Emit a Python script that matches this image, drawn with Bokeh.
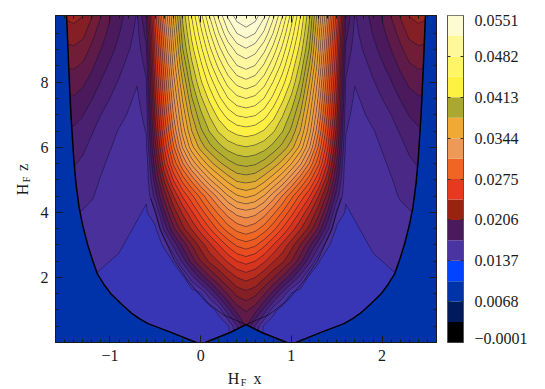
import numpy as np
from bokeh.plotting import figure
from bokeh.layouts import row, column
from bokeh.embed import file_html
from bokeh.resources import INLINE
from bokeh.core.properties import value
from bokeh.models import FixedTicker, LinearAxis, Range1d

# symmetry axis of the pattern and axis extents
X_MID = 0.5
X_LO, X_HI = -1.6, 2.6
Z_LO, Z_HI = 0.0, 10.05

Z_ROWS = [0, .5, 1, 1.5, 2, 2.5, 3, 3.5, 4, 4.5, 5, 5.5, 6, 6.5, 7, 7.5, 8, 8.5, 9, 9.5, 10.05]
D_COLS = [0, .1, .2, .3, .4, .5, .6, .7, .8, .9, 1.0, 1.1, 1.2, 1.3, 1.4, 1.5, 1.6, 1.7, 1.8, 1.9, 2.0, 2.1]
FLOOR = .0145

# central lobe, read row by row against distance from the axis: d = 0 ... 1.2
CENTRAL = [
    [.0185, .0165, .0148, .0145, .0145, .0145, .0145, .0145, .0145, .0145, .0145, .0145, .0145],
    [.0195, .0172, .0150, .0145, .0145, .0145, .0145, .0145, .0145, .0145, .0145, .0145, .0145],
    [.0206, .0199, .0180, .0156, .0146, .0145, .0145, .0145, .0145, .0145, .0145, .0145, .0145],
    [.0222, .0218, .0206, .0190, .0170, .0151, .0145, .0145, .0145, .0145, .0145, .0145, .0145],
    [.0240, .0236, .0227, .0216, .0203, .0187, .0168, .0148, .0145, .0145, .0145, .0145, .0145],
    [.0261, .0257, .0248, .0237, .0228, .0215, .0198, .0176, .0153, .0145, .0145, .0145, .0145],
    [.0284, .0280, .0270, .0257, .0244, .0230, .0215, .0197, .0176, .0154, .0145, .0145, .0145],
    [.0307, .0303, .0294, .0282, .0267, .0252, .0237, .0222, .0202, .0176, .0150, .0145, .0145],
    [.0327, .0324, .0315, .0302, .0288, .0272, .0255, .0238, .0219, .0193, .0160, .0145, .0145],
    [.0354, .0350, .0340, .0325, .0309, .0292, .0275, .0258, .0236, .0210, .0178, .0145, .0145],
    [.0377, .0375, .0366, .0354, .0340, .0322, .0302, .0282, .0258, .0228, .0190, .0150, .0145],
    [.0397, .0395, .0389, .0380, .0368, .0352, .0333, .0308, .0280, .0245, .0202, .0155, .0145],
    [.0414, .0412, .0408, .0400, .0390, .0377, .0358, .0331, .0297, .0258, .0212, .0160, .0145],
    [.0431, .0429, .0424, .0416, .0405, .0391, .0372, .0345, .0310, .0268, .0221, .0163, .0145],
    [.0449, .0447, .0440, .0429, .0416, .0401, .0382, .0354, .0320, .0276, .0228, .0166, .0145],
    [.0467, .0464, .0456, .0443, .0428, .0412, .0392, .0363, .0328, .0283, .0234, .0169, .0145],
    [.0485, .0481, .0471, .0456, .0440, .0423, .0402, .0372, .0336, .0289, .0240, .0172, .0145],
    [.0502, .0498, .0486, .0470, .0452, .0432, .0411, .0382, .0344, .0295, .0245, .0176, .0145],
    [.0518, .0513, .0501, .0484, .0464, .0442, .0420, .0392, .0350, .0301, .0250, .0181, .0145],
    [.0535, .0530, .0517, .0498, .0476, .0452, .0428, .0399, .0356, .0307, .0255, .0187, .0145],
    [.0551, .0546, .0532, .0512, .0489, .0463, .0436, .0406, .0364, .0315, .0262, .0195, .0145],
]

# outer lobes, read row by row against distance from the axis: d = 1.0 ... 2.1
LOBE = [
    [.0145, .0145, .0145, .0145, .0145, .0145, .0145, .0145, .0145, .0145, .0145, .0145],
    [.0145, .0145, .0145, .0145, .0145, .0145, .0145, .0145, .0145, .0145, .0145, .0145],
    [.0145, .0145, .0145, .0145, .0145, .0145, .0145, .0146, .0146, .0146, .0146, .0146],
    [.0145, .0145, .0145, .0145, .0146, .0147, .0148, .0148, .0149, .0149, .0149, .0149],
    [.0145, .0145, .0146, .0147, .0148, .0150, .0151, .0152, .0153, .0153, .0153, .0153],
    [.0146, .0146, .0147, .0149, .0151, .0152, .0153, .0154, .0155, .0155, .0155, .0155],
    [.0146, .0147, .0149, .0151, .0153, .0154, .0155, .0156, .0157, .0157, .0157, .0157],
    [.0147, .0149, .0151, .0153, .0155, .0156, .0157, .0158, .0159, .0160, .0160, .0160],
    [.0149, .0151, .0153, .0155, .0157, .0158, .0159, .0161, .0162, .0163, .0163, .0163],
    [.0150, .0153, .0155, .0156, .0158, .0159, .0161, .0163, .0165, .0166, .0166, .0166],
    [.0151, .0154, .0155, .0157, .0158, .0160, .0162, .0165, .0168, .0170, .0170, .0169],
    [.0152, .0155, .0156, .0157, .0159, .0161, .0164, .0167, .0171, .0174, .0174, .0173],
    [.0153, .0155, .0156, .0158, .0160, .0163, .0166, .0170, .0175, .0178, .0178, .0177],
    [.0154, .0156, .0158, .0160, .0162, .0165, .0169, .0174, .0179, .0182, .0182, .0181],
    [.0155, .0157, .0159, .0162, .0165, .0169, .0173, .0178, .0184, .0187, .0187, .0186],
    [.0156, .0158, .0161, .0164, .0168, .0173, .0178, .0184, .0190, .0193, .0193, .0191],
    [.0157, .0159, .0163, .0167, .0172, .0177, .0183, .0190, .0196, .0199, .0199, .0197],
    [.0158, .0161, .0165, .0170, .0176, .0182, .0188, .0196, .0203, .0206, .0205, .0203],
    [.0159, .0163, .0168, .0174, .0180, .0187, .0194, .0202, .0210, .0213, .0212, .0210],
    [.0160, .0165, .0170, .0177, .0184, .0191, .0199, .0208, .0218, .0221, .0220, .0217],
    [.0161, .0166, .0172, .0180, .0187, .0195, .0205, .0216, .0226, .0229, .0227, .0224],
]

# black separatrices on the left side; the right side is their mirror image
OUTER_X = [-.05, -.326, -.58, -.68, -.77, -.88, -.99, -1.07, -1.14, -1.20, -1.25, -1.30, -1.34, -1.375, -1.40, -1.43, -1.455, -1.478]
OUTER_Z = [0, .31, .58, .74, .92, 1.2, 1.5, 1.8, 2.12, 2.6, 3.05, 3.6, 4.15, 4.9, 5.7, 7.0, 8.5, 10.05]
INNER_X = [.95, .674, .5, .25, .04, -.14, -.29, -.44, -.55]
INNER_Z = [0, .31, .55, .85, 1.3, 1.9, 2.52, 3.45, 4.43]
N_BELOW_CROSSING = 3

# colour bar
BAND_COLORS = ["#000000", "#001a5c", "#0033aa", "#0044ff", "#4a33a2", "#4b1a5c", "#992211", "#e63a1e",
               "#ee6622", "#ee9955", "#f0aa33", "#aaa82f", "#fff044", "#fff566", "#fff899", "#fffbd0"]
FIELD_DARK_RED = "#8a2020"
CB_LOW, CB_HIGH = -0.0001, 0.0551
CB_VALUES = [0.0551, 0.0482, 0.0413, 0.0344, 0.0275, 0.0206, 0.0137, 0.0068, -0.0001]
CB_TEXTS = ["0.0551", "0.0482", "0.0413", "0.0344", "0.0275", "0.0206", "0.0137", "0.0068", "\u22120.0001"]
CB_LABEL_AT = [0.0543, 0.0482, 0.0413, 0.0344, 0.0275, 0.0206, 0.0137, 0.0068, 0.0005]

X_TICKS = [-1, 0, 1, 2]
Z_TICKS = [2, 4, 6, 8]
X_MINOR = [-1.5, -1.4, -1.3, -1.2, -1.1, -.9, -.8, -.7, -.6, -.5, -.4, -.3, -.2, -.1,
           .1, .2, .3, .4, .5, .6, .7, .8, .9, 1.1, 1.2, 1.3, 1.4, 1.5, 1.6, 1.7, 1.8, 1.9,
           2.1, 2.2, 2.3, 2.4, 2.5]
Z_MINOR = [.5, 1, 1.5, 2.5, 3, 3.5, 4.5, 5, 5.5, 6.5, 7, 7.5, 8.5, 9, 9.5]

LEVEL_START, LEVEL_STEP, LEVEL_COUNT = .01415, .00105, 41

FONT = "Liberation Serif"
INK = "#1a1a1a"
BLUE = BAND_COLORS[2]


def hex_rgb(c):
    return [int(c[i:i + 2], 16) for i in (1, 3, 5)]


def ramp(values):
    step = (CB_HIGH - CB_LOW) / len(BAND_COLORS)
    stops = [CB_LOW + (i + .5) * step for i in range(len(BAND_COLORS))]
    cols = list(BAND_COLORS)
    cols[6] = FIELD_DARK_RED
    rgb = np.array([hex_rgb(c) for c in cols], float)
    chans = [np.interp(values, stops, rgb[:, k]) for k in range(3)]
    return ["#%02x%02x%02x" % (int(r), int(g), int(b)) for r, g, b in zip(*chans)]


# assemble the field on the distance grid and mirror it around the axis
d = np.array(D_COLS)
half = np.full((len(Z_ROWS), len(D_COLS)), FLOOR)
c_arr, l_arr = np.array(CENTRAL), np.array(LOBE)
half[:, :c_arr.shape[1]] = np.maximum(half[:, :c_arr.shape[1]], c_arr)
half[:, -l_arr.shape[1]:] = np.maximum(half[:, -l_arr.shape[1]:], l_arr)
field = np.hstack([half[:, :0:-1], half])
xs = np.concatenate([X_MID - d[:0:-1], X_MID + d])
zs = np.array(Z_ROWS, float)

levels = [LEVEL_START + i * LEVEL_STEP for i in range(LEVEL_COUNT)]
mids = [(a + b) / 2 for a, b in zip(levels[:-1], levels[1:])]

# left-hand strip, main plot, colour bar and bottom strip, aligned on the reference's pixels
LEFT_W, TOP_H, PLOT_W, PLOT_H, AXIS_B, LABEL_H = 37, 15, 381, 327, 25, 22

p = figure(frame_width=PLOT_W, frame_height=PLOT_H, min_border_left=17, min_border_right=3,
           min_border_top=TOP_H, min_border_bottom=AXIS_B, toolbar_location=None, output_backend="svg",
           x_range=Range1d(X_LO, X_HI), y_range=Range1d(Z_LO, Z_HI))
p.grid.visible = False
p.outline_line_color = INK
p.background_fill_color = ramp([FLOOR])[0]

p.contour(xs, zs, field, levels, fill_color=ramp(mids), line_color="#000000", line_alpha=.5, line_width=.7)

ox, oz, ix, iz = map(np.array, (OUTER_X, OUTER_Z, INNER_X, INNER_Z))
mirror = lambda a: 2 * X_MID - a

left_x = np.concatenate([ox, [X_LO, X_LO]])
left_z = np.concatenate([oz, [Z_HI, Z_LO]])
p.patch(left_x, left_z, fill_color=BLUE, line_color=None)
p.patch(mirror(left_x), left_z, fill_color=BLUE, line_color=None)
tri_x = np.concatenate([ix[:N_BELOW_CROSSING], mirror(ix[:N_BELOW_CROSSING - 1])[::-1]])
tri_z = np.concatenate([iz[:N_BELOW_CROSSING], iz[:N_BELOW_CROSSING - 1][::-1]])
p.patch(tri_x, tri_z, fill_color=BLUE, line_color=None)

for fx in (ox, mirror(ox)):
    p.line(fx, oz, line_color="#000000", line_width=1.5)
for fx in (ix, mirror(ix)):
    p.line(fx[:N_BELOW_CROSSING], iz[:N_BELOW_CROSSING], line_color="#000000", line_width=1.6)
    p.line(fx[N_BELOW_CROSSING - 1:], iz[N_BELOW_CROSSING - 1:], line_color="#000000", line_width=.9, line_alpha=.6)


def style(ax, ticks, minor, labelled):
    ax.ticker = FixedTicker(ticks=ticks, minor_ticks=minor)
    ax.major_tick_in, ax.major_tick_out = 7, 0
    ax.minor_tick_in, ax.minor_tick_out = 3, 0
    ax.major_tick_line_color = ax.minor_tick_line_color = ax.axis_line_color = INK
    ax.axis_label = None
    if labelled:
        ax.major_label_text_font = FONT
        ax.major_label_text_font_size = "16px"
        ax.major_label_text_color = INK
        ax.major_label_standoff = 7
        ax.major_label_overrides = {t: str(t).replace("-", "\u2212") for t in ticks}
    else:
        ax.major_label_text_font_size = "0px"
        ax.major_label_text_color = None
        ax.major_label_standoff = 0


style(p.xaxis[0], X_TICKS, X_MINOR, True)
style(p.yaxis[0], Z_TICKS, Z_MINOR, True)
top, right = LinearAxis(), LinearAxis()
style(top, X_TICKS, X_MINOR, False)
style(right, Z_TICKS, Z_MINOR, False)
p.add_layout(top, "above")
p.add_layout(right, "right")


def text_strip(w, h, x0, x1, y0, y1):
    s = figure(width=w, height=h, min_border=0, toolbar_location=None, output_backend="svg",
               x_range=Range1d(x0, x1), y_range=Range1d(y1, y0))
    s.grid.visible = False
    s.axis.visible = False
    s.outline_line_color = None
    return s


def tag(s, text, px, py, size=16, angle=0.0):
    s.text([px], [py], text=[text], angle=angle, text_font=value(FONT), text_font_size=f"{size}px",
           text_color=INK, text_align="center", text_baseline="middle")


plot_total_h = TOP_H + PLOT_H + AXIS_B
plot_total_w = 17 + PLOT_W + 3

ylab = text_strip(LEFT_W, plot_total_h, 0, LEFT_W, 0, plot_total_h)
tag(ylab, "H", 22, 189, angle=np.pi / 2)
tag(ylab, "F", 26, 179, 10, angle=np.pi / 2)
tag(ylab, "z", 22, 167, angle=np.pi / 2)

xlab = text_strip(plot_total_w, LABEL_H, LEFT_W, LEFT_W + plot_total_w, plot_total_h, plot_total_h + LABEL_H)
tag(xlab, "H", 233, 378)
tag(xlab, "F", 243, 382, 10)
tag(xlab, "x", 257, 378)

cb = figure(frame_width=16, frame_height=PLOT_H, min_border_left=8, min_border_right=72,
            min_border_top=TOP_H, min_border_bottom=AXIS_B, toolbar_location=None, output_backend="svg",
            x_range=Range1d(0, 1), y_range=Range1d(CB_LOW, CB_HIGH))
cb.grid.visible = False
cb.xaxis.visible = False
cb.yaxis.visible = False
cb.outline_line_color = "#555555"
edges = np.linspace(CB_LOW, CB_HIGH, len(BAND_COLORS) + 1)
cb.quad(left=0, right=1, bottom=edges[:-1], top=edges[1:], fill_color=BAND_COLORS, line_color=None)
for ax_side in ("left", "right"):
    ax = LinearAxis()
    ax.ticker = FixedTicker(ticks=CB_VALUES[1:-1])
    ax.major_tick_in, ax.major_tick_out = 3, 0
    ax.minor_tick_line_color = None
    ax.major_tick_line_color = "#333333"
    ax.axis_line_color = "#555555"
    ax.major_label_text_font_size = "0px"
    ax.major_label_text_color = None
    ax.major_label_standoff = 0
    cb.add_layout(ax, ax_side)

lab_ax = LinearAxis()
lab_ax.ticker = FixedTicker(ticks=CB_LABEL_AT)
lab_ax.major_label_overrides = dict(zip(CB_LABEL_AT, CB_TEXTS))
lab_ax.major_tick_line_color = None
lab_ax.minor_tick_line_color = None
lab_ax.axis_line_color = None
lab_ax.major_label_standoff = 5
lab_ax.major_label_text_font = FONT
lab_ax.major_label_text_font_size = "16px"
lab_ax.major_label_text_color = INK
cb.add_layout(lab_ax, "right")

page = row(ylab, column(row(p, cb, spacing=0), xlab, spacing=0), spacing=0)
open("out.html", "w").write(file_html(page, INLINE))
